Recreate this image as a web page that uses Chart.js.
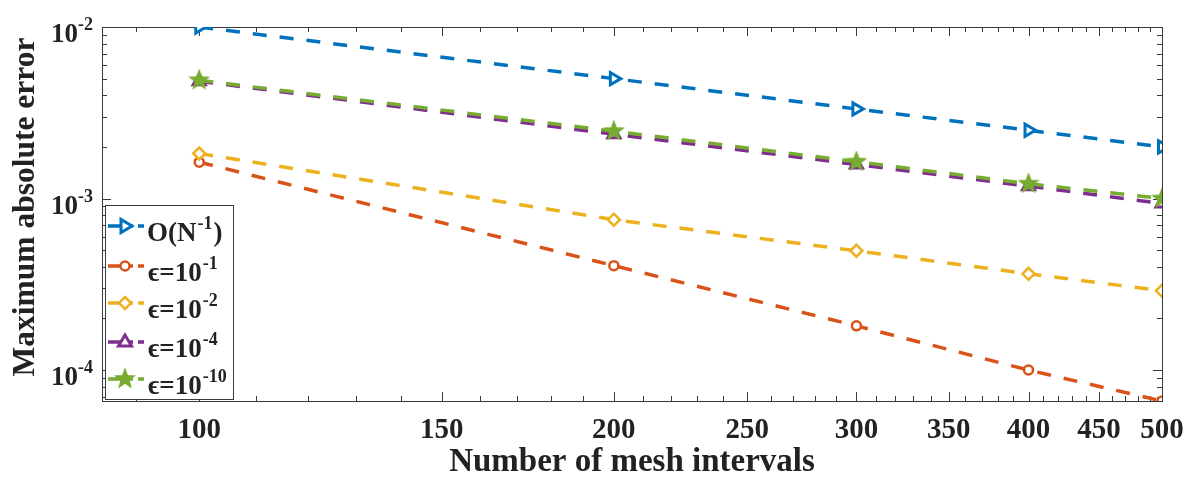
<!DOCTYPE html>
<html>
<head>
<meta charset="utf-8">
<script src="https://cdn.jsdelivr.net/npm/chart.js@4.4.0/dist/chart.umd.min.js"></script>
<style>
    html, body { margin: 0; padding: 0; background: #ffffff; }
    #chart_wrap { width: 1186px; height: 479px; }
</style>
</head>
<body>
<div id="chart_wrap"><canvas id="errorChart" width="1186" height="479"></canvas></div>
<script>
// ====================================================== data ========================================================
// mesh sizes N
let meshSizes = [100, 200, 300, 400, 500];

// reference slope O(N^-1)
let orderRef = [1.0e-2, 5.0e-3, 3.33e-3, 2.5e-3, 2.0e-3];

// maximum absolute error for each epsilon
let errEps1 = [1.63e-3, 4.06e-4, 1.81e-4, 1.0e-4, 6.6e-5];
let errEps2 = [1.83e-3, 7.53e-4, 4.96e-4, 3.64e-4, 2.90e-4];
let errEps4 = [4.83e-3, 2.37e-3, 1.58e-3, 1.18e-3, 9.35e-4];
let errEps10 = [4.89e-3, 2.47e-3, 1.64e-3, 1.22e-3, 1.0e-3];

// legend text (base + superscript + tail)
let legendBase = ['O(N', '\u03F5=10', '\u03F5=10', '\u03F5=10', '\u03F5=10'];
let legendSup = ['-1', '-1', '-2', '-4', '-10'];
let legendTail = [')', '', '', '', ''];

// tick labels
let xTickValues = [100, 150, 200, 250, 300, 350, 400, 450, 500];
let yTickExps = [-2, -3, -4];

// ====================================================== style ========================================================
let seriesColors = ['#0072BD', '#D95319', '#EDB120', '#7E2F8E', '#77AC30'];
let axisColor = '#3a3a3a';
let textColor = '#222222';
let serif = '"Liberation Serif", "Times New Roman", serif';

// pentagram marker (no built-in one)
function makeStar(color, size) {
    let c = document.createElement('canvas');
    c.width = size;
    c.height = size;
    let g = c.getContext('2d');
    let r1 = size / 2 - 1.5, r2 = r1 * 0.42;
    g.beginPath();
    for (let i = 0; i < 10; i++) {
        let r = (i % 2 === 0) ? r1 : r2;
        let a = -Math.PI / 2 + i * Math.PI / 5;
        let px = size / 2 + r * Math.cos(a);
        let py = size / 2 + r * Math.sin(a);
        if (i === 0) g.moveTo(px, py); else g.lineTo(px, py);
    }
    g.closePath();
    g.fillStyle = color;
    g.strokeStyle = color;
    g.lineWidth = 1.5;
    g.fill();
    g.stroke();
    return c;
}
let starImg = makeStar(seriesColors[4], 22);

function toPoints(values) {
    let pts = [];
    for (let i = 0; i < meshSizes.length; i++) {
        pts.push({ x: meshSizes[i], y: values[i] });
    }
    return pts;
}

// ====================================================== legend marker ========================================================
function drawMarker(ctx, idx, x, y) {
    let col = seriesColors[idx];
    ctx.save();
    ctx.strokeStyle = col;
    ctx.fillStyle = '#ffffff';
    ctx.lineWidth = 2.5;
    ctx.beginPath();
    if (idx === 0) {
        // right triangle
        ctx.moveTo(x + 7, y);
        ctx.lineTo(x - 4, y - 6.5);
        ctx.lineTo(x - 4, y + 6.5);
        ctx.closePath();
        ctx.lineWidth = 3;
        ctx.fill(); ctx.stroke();
    } else if (idx === 1) {
        ctx.arc(x, y, 4.5, 0, Math.PI * 2);
        ctx.fill(); ctx.stroke();
    } else if (idx === 2) {
        ctx.moveTo(x, y - 6); ctx.lineTo(x + 6, y); ctx.lineTo(x, y + 6); ctx.lineTo(x - 6, y);
        ctx.closePath();
        ctx.fill(); ctx.stroke();
    } else if (idx === 3) {
        ctx.moveTo(x, y - 7);
        ctx.lineTo(x + 6.5, y + 4);
        ctx.lineTo(x - 6.5, y + 4);
        ctx.closePath();
        ctx.lineWidth = 3;
        ctx.fill(); ctx.stroke();
    } else {
        ctx.drawImage(starImg, x - 11, y - 11);
    }
    ctx.restore();
}

// ====================================================== plugin ========================================================
// MATLAB-like box, inward ticks, y labels with exponent, legend
let matlabAxes = {
    id: 'matlabAxes',
    beforeDatasetsDraw(chart) {
        let ctx = chart.ctx;
        let a = chart.chartArea;
        let xs = chart.scales.x;
        let ys = chart.scales.y;
        ctx.save();
        ctx.strokeStyle = axisColor;
        ctx.lineWidth = 1;
        ctx.strokeRect(Math.round(a.left) + 0.5, Math.round(a.top) + 0.5, Math.round(a.right - a.left), Math.round(a.bottom - a.top));

        ctx.beginPath();
        // x ticks (top and bottom)
        for (let v = 90; v <= 500; v += 10) {
            let px = Math.round(xs.getPixelForValue(v)) + 0.5;
            let len = xTickValues.indexOf(v) >= 0 ? 9 : 5;
            ctx.moveTo(px, a.bottom); ctx.lineTo(px, a.bottom - len);
            ctx.moveTo(px, a.top); ctx.lineTo(px, a.top + len);
        }
        // y ticks (left and right)
        for (let e = -5; e <= -3; e++) {
            for (let m = 1; m <= 10; m++) {
                let v = m * Math.pow(10, e);
                if (v < ys.min * 0.999 || v > ys.max * 1.001) continue;
                let py = Math.round(ys.getPixelForValue(v)) + 0.5;
                let len = (m === 1 || m === 10) ? 9 : 5;
                ctx.moveTo(a.left, py); ctx.lineTo(a.left + len, py);
                ctx.moveTo(a.right, py); ctx.lineTo(a.right - len, py);
            }
        }
        ctx.stroke();

        // y tick labels 10^k
        ctx.fillStyle = textColor;
        ctx.textBaseline = 'alphabetic';
        ctx.textAlign = 'left';
        for (let i = 0; i < yTickExps.length; i++) {
            let py = ys.getPixelForValue(Math.pow(10, yTickExps[i]));
            ctx.font = 'bold 18px ' + serif;
            let supW = ctx.measureText(String(yTickExps[i])).width;
            ctx.font = 'bold 27px ' + serif;
            let baseW = ctx.measureText('10').width;
            let right = 93;
            ctx.fillText('10', right - supW - baseW, py + 15);
            ctx.font = 'bold 18px ' + serif;
            ctx.fillText(String(yTickExps[i]), right - supW, py + 3);
        }

        // y title
        ctx.save();
        ctx.translate(34, 207);
        ctx.rotate(-Math.PI / 2);
        ctx.textAlign = 'center';
        ctx.font = 'bold 31.5px ' + serif;
        ctx.fillText('Maximum absolute error', 0, 0);
        ctx.restore();
        ctx.restore();
    },
    afterDatasetsDraw(chart) {
        let ctx = chart.ctx;
        ctx.save();
        // legend box
        ctx.fillStyle = '#ffffff';
        ctx.fillRect(105, 205, 128, 194);
        ctx.strokeStyle = axisColor;
        ctx.lineWidth = 1;
        ctx.strokeRect(105.5, 205.5, 128, 194);

        let rowY = [226, 266, 303, 342, 379];
        for (let i = 0; i < rowY.length; i++) {
            let y = rowY[i];
            ctx.strokeStyle = seriesColors[i];
            ctx.lineWidth = 3.5;
            ctx.beginPath();
            ctx.moveTo(108, y); ctx.lineTo(133, y);
            ctx.moveTo(138, y); ctx.lineTo(144, y);
            ctx.stroke();
            drawMarker(ctx, i, 125, y);

            let x = i === 0 ? 147 : 148;
            ctx.fillStyle = textColor;
            ctx.textAlign = 'left';
            ctx.textBaseline = 'alphabetic';
            ctx.font = 'bold 27px ' + serif;
            ctx.fillText(legendBase[i], x, y + 15);
            x += ctx.measureText(legendBase[i]).width;
            ctx.font = 'bold 18px ' + serif;
            ctx.fillText(legendSup[i], x + 1, y + 3);
            x += ctx.measureText(legendSup[i]).width + 1;
            if (legendTail[i]) {
                ctx.font = 'bold 27px ' + serif;
                ctx.fillText(legendTail[i], x + 1, y + 15);
            }
        }
        ctx.restore();
    }
};

// ====================================================== chart ========================================================
let seriesValues = [orderRef, errEps1, errEps2, errEps4, errEps10];
let pointStyles = ['triangle', 'circle', 'rectRot', 'triangle', starImg];
let pointRadii = [7, 4.5, 6, 7, 11];
let pointRotations = [90, 0, 0, 0, 0];

let datasets = [];
for (let i = 0; i < seriesValues.length; i++) {
    datasets.push({
        label: legendBase[i] + legendSup[i] + legendTail[i],
        data: toPoints(seriesValues[i]),
        borderColor: seriesColors[i],
        backgroundColor: '#ffffff',
        borderWidth: 3.5,
        borderDash: [14, 13],
        pointStyle: pointStyles[i],
        pointRadius: pointRadii[i],
        pointRotation: pointRotations[i],
        pointBorderWidth: i === 1 || i === 2 ? 2.5 : 3,
        pointBorderColor: seriesColors[i],
        pointBackgroundColor: '#ffffff',
        tension: 0,
        order: 4 - i // green drawn on top, like MATLAB
    });
}

const errorCt = document.getElementById('errorChart');

let errorChart = new Chart(errorCt, {
    type: 'line',
    data: { datasets: datasets },
    options: {
        responsive: false,
        animation: false,
        layout: { padding: { left: 102, right: 24, top: 27, bottom: 0 } },
        plugins: {
            legend: { display: false },
            tooltip: { enabled: false }
        },
        scales: {
            x: {
                type: 'logarithmic',
                min: 85,
                max: 500,
                grid: { display: false },
                border: { display: false },
                afterBuildTicks: (scale) => {
                    scale.ticks = xTickValues.map(v => ({ value: v }));
                },
                afterFit: (scale) => {
                    scale.height = 78;
                    scale.paddingLeft = 0;
                    scale.paddingRight = 0;
                },
                ticks: {
                    color: textColor,
                    padding: 4,
                    maxRotation: 0,
                    autoSkip: false,
                    font: { family: serif, size: 29, weight: 'bold' },
                    callback: (v) => String(v)
                },
                title: {
                    display: true,
                    text: 'Number of mesh intervals',
                    color: textColor,
                    padding: { top: 0, bottom: 0 },
                    font: { family: serif, size: 33, weight: 'bold', lineHeight: 1.0 }
                }
            },
            y: {
                type: 'logarithmic',
                min: 6.6e-5,
                max: 1.0e-2,
                grid: { display: false },
                border: { display: false },
                afterFit: (scale) => { scale.width = 0; },
                ticks: { display: false }
            }
        }
    },
    plugins: [matlabAxes]
});
</script>
</body>
</html>
